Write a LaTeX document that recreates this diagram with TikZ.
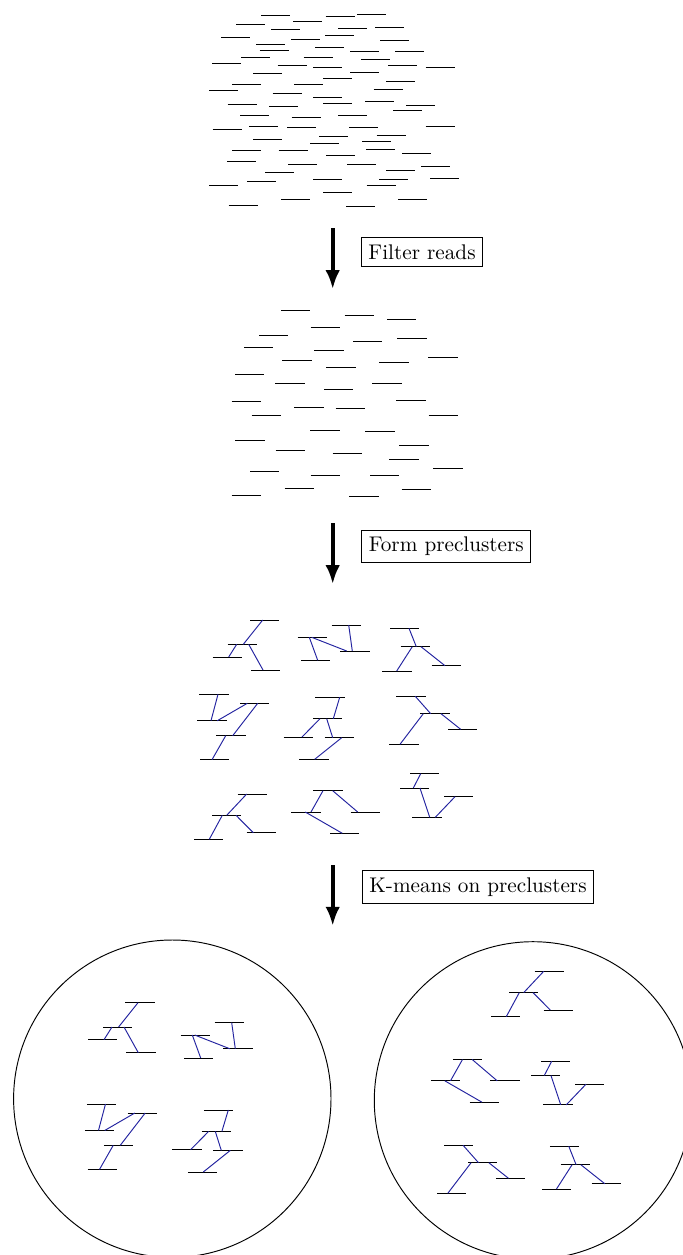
\documentclass[tikz,border=0pt]{standalone}
\usetikzlibrary{arrows.meta}

\definecolor{linkblue}{RGB}{35,35,160}

\tikzset{
  read/.style={draw=black,line width=0.45pt},
  link/.style={draw=linkblue,line width=0.45pt},
  stagearrow/.style={line width=2pt,-{Latex[length=9pt,width=6.8pt]}},
  stagelabel/.style={draw=black,line width=0.4pt,anchor=north west,font=\normalsize},
  groupcircle/.style={draw=black,line width=0.45pt}
}

% a read is a short horizontal segment starting at its left end
\newcommand\rd[2]{\draw[read] (#1,#2) -- ++(29.3,0);}

% the nine preclusters: reads joined by overlap links
\newcommand\pcA{%
  \foreach \x/\y in {250/620,227.7/644.3,212.7/657,251/670} {\rd{\x}{\y}}
  \draw[link] (262.7,620) -- (243.3,644.3);
  \draw[link] (236.7,644.3) -- (228.7,657);
  \draw[link] (248.7,644.3) -- (263,670);
}
\newcommand\pcB{%
  \foreach \x/\y in {297.7/637.3,331.7/625,340.3/651,301/660.3} {\rd{\x}{\y}}
  \draw[link] (309.3,637.3) -- (317.7,660.3);
  \draw[link] (311.7,637.3) -- (346.7,651);
  \draw[link] (348.7,625) -- (352.3,651);
}
\newcommand\pcC{%
  \foreach \x/\y in {390/628.3,400.7/646.7,382.3/671,431.7/665.7} {\rd{\x}{\y}}
  \draw[link] (409,628.3) -- (416.3,646.7);
  \draw[link] (412.3,646.7) -- (396.7,671);
  \draw[link] (421,646.7) -- (445,665.7);
}
\newcommand\pcD{%
  \foreach \x/\y in {199.3/694.3,197.3/720.7,240/703.3,216.3/735.7,200/759.7} {\rd{\x}{\y}}
  \draw[link] (218,694.3) -- (211,720.7);
  \draw[link] (217.3,720.7) -- (247.3,703.3);
  \draw[link] (257.7,703.3) -- (232.7,735.7);
  \draw[link] (225.7,735.7) -- (212,759.7);
}
\newcommand\pcE{%
  \foreach \x/\y in {315.3/697.3,313/718.7,283.7/737,324.7/737.7,299.3/759.3} {\rd{\x}{\y}}
  \draw[link] (339.7,697.3) -- (333.3,718.7);
  \draw[link] (320,718.7) -- (302,737);
  \draw[link] (326.7,718.7) -- (332.7,737.7);
  \draw[link] (341.7,737.7) -- (314.7,759.3);
}
\newcommand\pcF{%
  \foreach \x/\y in {396.3/696.3,420.3/713.7,448/729.3,389.3/744.3} {\rd{\x}{\y}}
  \draw[link] (415.3,696.3) -- (430.7,713.7);
  \draw[link] (423.3,713.7) -- (400,744.3);
  \draw[link] (441,713.7) -- (460.7,729.3);
}
\newcommand\pcG{%
  \foreach \x/\y in {237.7/794,212/815.3,246.7/832.7,194/839.3} {\rd{\x}{\y}}
  \draw[link] (246.7,794) -- (226.7,815.3);
  \draw[link] (222.3,815.3) -- (209.3,839.3);
  \draw[link] (236,815.3) -- (253.3,832.7);
}
\newcommand\pcH{%
  \foreach \x/\y in {313.3/790.7,291.3/812,350.7/812,330/833.3} {\rd{\x}{\y}}
  \draw[link] (323,790.7) -- (311,812);
  \draw[link] (332.7,790.7) -- (357.7,812);
  \draw[link] (305.3,812) -- (342.3,833.3);
}
\newcommand\pcI{%
  \foreach \x/\y in {410/773.7,400/788,444/796.7,412.3/817.3} {\rd{\x}{\y}}
  \draw[link] (420.7,773.7) -- (413.3,788);
  \draw[link] (420,788) -- (429.7,817.3);
  \draw[link] (455,796.7) -- (435.3,817.3);
}

\begin{document}
\begin{tikzpicture}[x=0.4717pt,y=-0.4717pt]
\useasboundingbox (0,0) rectangle (683,1255);
\clip (0,0) rectangle (683,1255);

% all reads
\foreach \x/\y in {
  261/15,325.7/16.3,357/14.7,236/24.3,293/21.7,271/29.3,338/28.7,375/27,
  221/37,325/35.3,291/39.7,380/40.3,256/44.7,315/47.3,259.7/50,350/51,395/51.3,
  241/57.7,303.7/57.3,361/59.3,212/63.7,277.7/65.7,313/67,388/65.7,425.7/67,
  350/72,253/73,323/78,232/84.3,294/84.3,386/81,209/90,373.7/89.7,272.7/93.7,
  313/97.3,365/101,227.7/104.7,269/106.3,323/103,406/105.3,393/110,240/115.3,
  291.7/117.3,338/115,212.7/129,249/126,287/127.7,349/127.7,425.7/126,
  253/139.7,319/136,376.7/135,310/143.3,362/141,232/150,278.7/150.7,326/155.3,
  366/149.3,402/153.7,227/161,288/164.3,347/164.3,421/166.3,265/172.7,386/170,
  209/185,247/181.7,313/179.3,379/179,430/178.3,366.7/185,323/192.7,281/199,
  398/199.7,228.7/205.7,346/206.7} {\rd{\x}{\y}}

% reads kept after filtering
\foreach \x/\y in {
  281/310.7,344.7/315.3,387/319.7,310.7/327.7,259/335.3,353/341,397.3/338,
  244/347.7,314.3/350.7,428.3/357,282.3/360.7,326.3/367.7,379.3/362.7,
  235/374.7,275.3/383.7,324/389.3,372.3/383,231.7/401,396.3/400.3,294.3/407.7,
  335.7/408,251.7/415.7,428.7/415.7,310.3/430,365.3/431,235.3/440,275.7/450.3,
  332.7/453.7,399.3/445.7,389.3/459.7,433.3/468.3,250/471.7,310.7/475,370/475,
  284.7/488.7,401.7/489.3,231.7/495.7,349.3/496.7} {\rd{\x}{\y}}

% preclusters
\pcA \pcB \pcC
\pcD \pcE \pcF
\pcG \pcH \pcI

% clusters found by k-means
\draw[groupcircle] (172.3,1098.7) circle[radius=158.7];
\draw[groupcircle] (533,1100.4) circle[radius=158.7];
\begin{scope}[shift={(-124.7,382.7)}]\pcA\end{scope}
\begin{scope}[shift={(-117,397.7)}]\pcB\end{scope}
\begin{scope}[shift={(-112.5,409.7)}]\pcD\end{scope}
\begin{scope}[shift={(-111.4,412.7)}]\pcE\end{scope}
\begin{scope}[shift={(297,177.3)}]\pcG\end{scope}
\begin{scope}[shift={(139.5,268.8)}]\pcH\end{scope}
\begin{scope}[shift={(131,287.5)}]\pcI\end{scope}
\begin{scope}[shift={(47.8,449)}]\pcF\end{scope}
\begin{scope}[shift={(159.8,518)}]\pcC\end{scope}

% processing steps
\coordinate (s1a) at (332.7,228.3);
\coordinate (s1b) at (332.7,289.3);
\coordinate (s2a) at (332.7,523.3);
\coordinate (s2b) at (332.7,584.3);
\coordinate (s3a) at (332.7,865);
\coordinate (s3b) at (332.7,926);
\draw[stagearrow] (s1a) -- (s1b);
\draw[stagearrow] (s2a) -- (s2b);
\draw[stagearrow] (s3a) -- (s3b);
\node[stagelabel] (filter) at (361,237.3) {Filter reads};
\node[stagelabel] (form) at (361.3,529.5) {Form preclusters};
\node[stagelabel] (kmeans) at (362,870) {K-means on preclusters};
\end{tikzpicture}
\end{document}
